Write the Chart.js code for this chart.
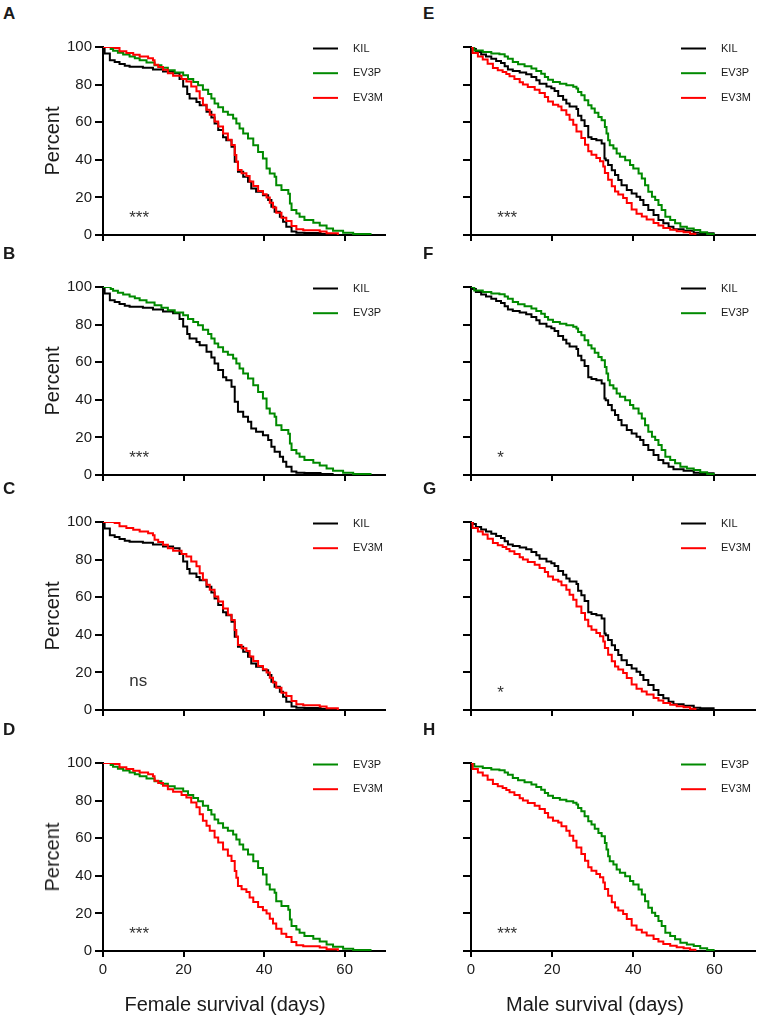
<!doctype html>
<html lang="en">
<head>
<meta charset="utf-8">
<title>Survival curves A–H</title>
<script src="https://cdn.jsdelivr.net/npm/chart.js@4.4.1/dist/chart.umd.min.js"></script>
<style>
 body{margin:0;background:#fff;font-family:"Liberation Sans",Arial,sans-serif;color:#1a1a1a}
 #fig{position:relative;width:760px;height:1017px;overflow:hidden}
 canvas{position:absolute}
 .lbl{position:absolute;font-weight:bold;font-size:17px;line-height:17px}
 .ytitle{position:absolute;font-size:20px;line-height:20px;white-space:nowrap;transform:translate(-50%,-50%) rotate(-90deg)}
 .xtitle{position:absolute;font-size:20px;line-height:20px;white-space:nowrap;transform:translateX(-50%)}
</style>
</head>
<body>
<div id="fig"></div>

<script>
/* ===== Daten (Tage / Prozent überlebend) ============================ */
const KIL_F_DAYS = [0,0.4,1.7,2.9,4.1,5.4,6.6,9.9,12.4,14.9,17.4,19,19.9,20.9,21.5,23.2,24,25.7,26.9,27.7,28.6,29.8,30.6,31.9,32.7,33.5,34.8,36,36.8,38,39.7,41,41.8,42.6,43.9,44.7,45.5,46.8,48,50,54,57];
const KIL_F_PCT  = [100,96.5,93,92,91,90,89.5,89,88,87,86,83,79,75,72.6,70.8,69,65.5,62.5,59.3,55.8,52,50.4,46.9,39,33.6,31,28.3,24.8,23,21.2,18.6,15,12.4,9.7,7,4.4,1.8,1.2,1,0.5,0];

const EV3P_F_DAYS = [0,1.9,2.5,3.7,5,6.6,7.9,9.1,10.8,12.8,14.5,16.1,17.8,19.9,21.1,22.4,23.6,24.8,26.1,26.9,27.7,28.6,29.8,31,32.3,33.1,33.9,34.8,36,37.3,38.5,39.7,40.6,41.4,42.6,43,44.3,46,46.4,46.8,48,48.8,50,52.2,53.8,55.5,57.1,59.6,62.1,66.4];
const EV3P_F_PCT  = [100,99,98,97,96,95,94,93,91.7,90.3,89,87.6,86.4,85,83,81.4,79.6,77.3,75,72.6,70,68,65.5,64,62,59.3,56.6,54,51.3,47.8,44.2,40.7,35.4,32.7,31,26.5,23.9,22,16.8,13.3,11.5,9.7,8,6.5,5,3.5,2.3,1.2,0.5,0];

const EV3M_F_DAYS = [0,2.9,4.1,5.8,7.5,9.1,11.2,12.4,12.8,13.7,14.9,16.1,17.4,19.5,20.7,21.9,23.2,24,24.8,25.7,26.5,27.7,28.6,29.8,31,31.9,32.7,33.1,33.5,34.4,35.6,36.4,37.3,38.5,39.7,40.6,41.4,42.2,43,44.3,45.5,46.8,48,49.7,53.8,55.5,58.3];
const EV3M_F_PCT  = [100,99.5,97.7,96.8,95.9,95,94,92.9,90.6,89.3,87.9,86,84.7,83,81.7,79,76.4,72.8,69.3,66.6,64,60.4,57.7,54,50.6,47.9,42.6,39,34.6,32.9,31.4,28.4,26,23.4,21.7,19.9,17.2,14.6,11.9,9.2,7.5,4.8,3,2.5,1.8,0.9,0];

const KIL_M_DAYS = [0,0.5,1.2,2.5,3.7,5,6.2,7.4,8.3,9.1,10.3,12,13.6,14.9,16.1,16.9,18.6,19.8,20.6,21.5,22.7,23.5,24.3,26,26.4,27.2,28,28.9,29.7,30.9,32.2,32.9,33.2,33.8,34.7,35.5,36.3,37.1,38.4,39.6,40.8,41.7,42.5,43.7,45,46.2,47.4,48.7,49.9,52.4,54.9,56.5,59.8];
const KIL_M_PCT  = [100,99,97.3,96,95,93.8,92.6,91.5,89.7,88,87.3,86.4,85.5,84,82.3,80.5,79,78,76.6,74,72,70,68.3,67,63.4,61,58,52,51,50.4,48.7,40.7,39.8,37.2,34.5,31.9,29.2,26.5,23.9,22.1,20.4,18.6,15.9,13.3,10.6,8,6.2,4.4,3,2.3,1.2,0.9,0];

const EV3P_M_DAYS = [0,0.8,2.9,5,7,8.3,9.1,10.3,11.6,13.2,14.9,16.1,17.3,18.2,19,20.2,21.9,23.5,25.2,26,26.4,27.2,28,28.9,29.7,30.5,31.4,32.2,33,33.4,33.8,34.2,35.1,35.9,36.7,38,39.2,40,41.3,42.1,42.9,43.7,44.6,45.4,46.2,47,47.9,49.1,50.3,51.6,53.2,54.9,56.5,58.2,59.8];
const EV3P_M_PCT  = [100,98.2,97.3,96.5,96.1,95,93.8,92,90.8,89.7,88.5,87.3,85.8,84,82.6,81.4,80.5,79.6,78.8,77.9,76.1,74.3,71.7,69,67.3,65,62.8,61,57.5,54,50.4,47.8,46,43.4,41.6,39.8,37.2,35.4,32.7,30,26.5,23,20.4,18.6,15.9,13.3,9.7,8,6.2,4.4,3.5,2.7,1.4,0.5,0];

const EV3M_M_DAYS = [0,0.4,1.7,2.9,4.1,5.4,6.6,7.8,8.7,9.5,10.7,12,12.8,14,15.7,16.9,18.2,19,20.2,21.5,22.3,23.5,24.3,25.2,26,27.2,28.1,28.9,29.7,30.9,31.8,32.6,33,33.8,34.7,35.5,36.3,37.5,38.4,39.6,40.8,42.1,43.3,45,46.2,47.4,49.1,50.7,52.4,54,55.3];
const EV3M_M_PCT  = [100,96.8,95,93.3,91.1,88.8,87.6,86.7,85.6,84.4,83,81.2,80,78.7,77.3,75.5,73.4,71,69.3,68.4,66.3,64,61.3,58.7,55.1,51.6,48,44.5,42.7,41,39.2,36.5,33,29.4,25.9,23.2,21.5,19.7,17,13.5,11.3,9.9,8.2,6.4,5,3.7,2.8,2,1.4,0.7,0];

const X_TICKS = [0,20,40,60];
const Y_TICKS = [0,20,40,60,80,100];
const X_MAX = 70;

/* Panels: Buchstabe, Spalte, Zeile, Kurven, Signifikanz */
const PANELS = [
  {id:'A', col:0, row:0, series:['KIL_F','EV3P_F','EV3M_F'], sig:'***'},
  {id:'B', col:0, row:1, series:['KIL_F','EV3P_F'],          sig:'***'},
  {id:'C', col:0, row:2, series:['KIL_F','EV3M_F'],          sig:'ns'},
  {id:'D', col:0, row:3, series:['EV3P_F','EV3M_F'],         sig:'***'},
  {id:'E', col:1, row:0, series:['KIL_M','EV3P_M','EV3M_M'], sig:'***'},
  {id:'F', col:1, row:1, series:['KIL_M','EV3P_M'],          sig:'*'},
  {id:'G', col:1, row:2, series:['KIL_M','EV3M_M'],          sig:'*'},
  {id:'H', col:1, row:3, series:['EV3P_M','EV3M_M'],         sig:'***'}
];

/* ===== Stil / Layout =============================================== */
const FONT = '"Liberation Sans", Arial, sans-serif';
const C_KIL = '#000000', C_EV3P = '#008a00', C_EV3M = '#ff0000';
const SERIES = {
  KIL_F: {label:'KIL',  color:C_KIL,  days:KIL_F_DAYS,  pct:KIL_F_PCT,  order:3},
  EV3P_F:{label:'EV3P', color:C_EV3P, days:EV3P_F_DAYS, pct:EV3P_F_PCT, order:2},
  EV3M_F:{label:'EV3M', color:C_EV3M, days:EV3M_F_DAYS, pct:EV3M_F_PCT, order:1},
  KIL_M: {label:'KIL',  color:C_KIL,  days:KIL_M_DAYS,  pct:KIL_M_PCT,  order:3},
  EV3P_M:{label:'EV3P', color:C_EV3P, days:EV3P_M_DAYS, pct:EV3P_M_PCT, order:2},
  EV3M_M:{label:'EV3M', color:C_EV3M, days:EV3M_M_DAYS, pct:EV3M_M_PCT, order:1}
};
const ROW_TOP = [47,287,522,763];
const PLOT_H = 188, PAD_TOP = 15, X_H = 45, Y_W = 103;
const COLS = [{left:0, width:392, padRight:7}, {left:368, width:392, padRight:5}];
const SIG_DAY = 6.5;

/* Legende + Signifikanz-Text im Plot */
const overlay = {
  id:'overlay',
  afterDatasetsDraw(chart, args, opts){
    const {ctx, chartArea:a, scales:{x, y}} = chart;
    ctx.save();
    chart.data.datasets.forEach((ds,i)=>{
      const yy = a.top + 1.5 + i*24.7;
      ctx.strokeStyle = ds.borderColor; ctx.lineWidth = 2;
      ctx.beginPath(); ctx.moveTo(a.left+210, yy); ctx.lineTo(a.left+235, yy); ctx.stroke();
      ctx.fillStyle = '#1a1a1a'; ctx.font = '11px '+FONT;
      ctx.textAlign = 'left'; ctx.textBaseline = 'middle';
      ctx.fillText(ds.label, a.left+250, yy);
    });
    ctx.fillStyle = '#333'; ctx.font = '17px '+FONT;
    ctx.textAlign = 'left'; ctx.textBaseline = 'alphabetic';
    ctx.fillText(opts.sig, x.getPixelForValue(SIG_DAY), y.getPixelForValue(opts.sig==='ns' ? 13 : 6.5));
    ctx.restore();
  }
};

const fig = document.getElementById('fig');
function addDiv(cls, text, left, top){
  const d = document.createElement('div');
  d.className = cls; d.textContent = text;
  d.style.left = left+'px'; d.style.top = top+'px';
  fig.appendChild(d);
}

PANELS.forEach(p=>{
  const col = COLS[p.col];
  const cv = document.createElement('canvas');
  cv.width = col.width; cv.height = PAD_TOP + PLOT_H + X_H;
  cv.style.left = col.left+'px'; cv.style.top = (ROW_TOP[p.row]-PAD_TOP)+'px';
  fig.appendChild(cv);

  const datasets = p.series.map(k=>{
    const s = SERIES[k];
    return {
      label:s.label, data:s.days.map((d,i)=>({x:d, y:s.pct[i]})),
      borderColor:s.color, backgroundColor:s.color, borderWidth:2,
      pointRadius:0, stepped:true, fill:false, order:s.order
    };
  });

  new Chart(cv, {
    type:'line',
    data:{datasets},
    options:{
      responsive:false, animation:false, devicePixelRatio:1,
      layout:{padding:{top:PAD_TOP, right:col.padRight, left:0, bottom:0}},
      plugins:{legend:{display:false}, tooltip:{enabled:false}, overlay:{sig:p.sig}},
      scales:{
        x:{
          type:'linear', min:0, max:X_MAX,
          afterBuildTicks:s=>{ s.ticks = X_TICKS.map(v=>({value:v})); },
          afterFit:s=>{ s.height = X_H; },
          grid:{display:true, drawOnChartArea:false, drawTicks:true, tickLength:6, color:'#000', lineWidth:2},
          border:{display:true, color:'#000', width:2},
          ticks:{display:p.row===3, padding:4, maxRotation:0, autoSkip:false, color:'#1a1a1a', font:{family:FONT, size:15}}
        },
        y:{
          type:'linear', min:0, max:100,
          afterBuildTicks:s=>{ s.ticks = Y_TICKS.map(v=>({value:v})); },
          afterFit:s=>{ s.width = Y_W; },
          grid:{display:true, drawOnChartArea:false, drawTicks:true, tickLength:8, color:'#000', lineWidth:2},
          border:{display:true, color:'#000', width:2},
          ticks:{display:p.col===0, padding:3, autoSkip:false, color:'#1a1a1a', font:{family:FONT, size:15}}
        }
      }
    },
    plugins:[overlay]
  });

  addDiv('lbl', p.id, p.col===0 ? 3 : 423, ROW_TOP[p.row]-42);
  if(p.col===0){
    const d = document.createElement('div');
    d.className = 'ytitle'; d.textContent = 'Percent';
    d.style.left = '52px'; d.style.top = (ROW_TOP[p.row]+PLOT_H/2)+'px';
    fig.appendChild(d);
  }
});

addDiv('xtitle', 'Female survival (days)', 225, 994);
addDiv('xtitle', 'Male survival (days)', 595, 994);
</script>
</body>
</html>
